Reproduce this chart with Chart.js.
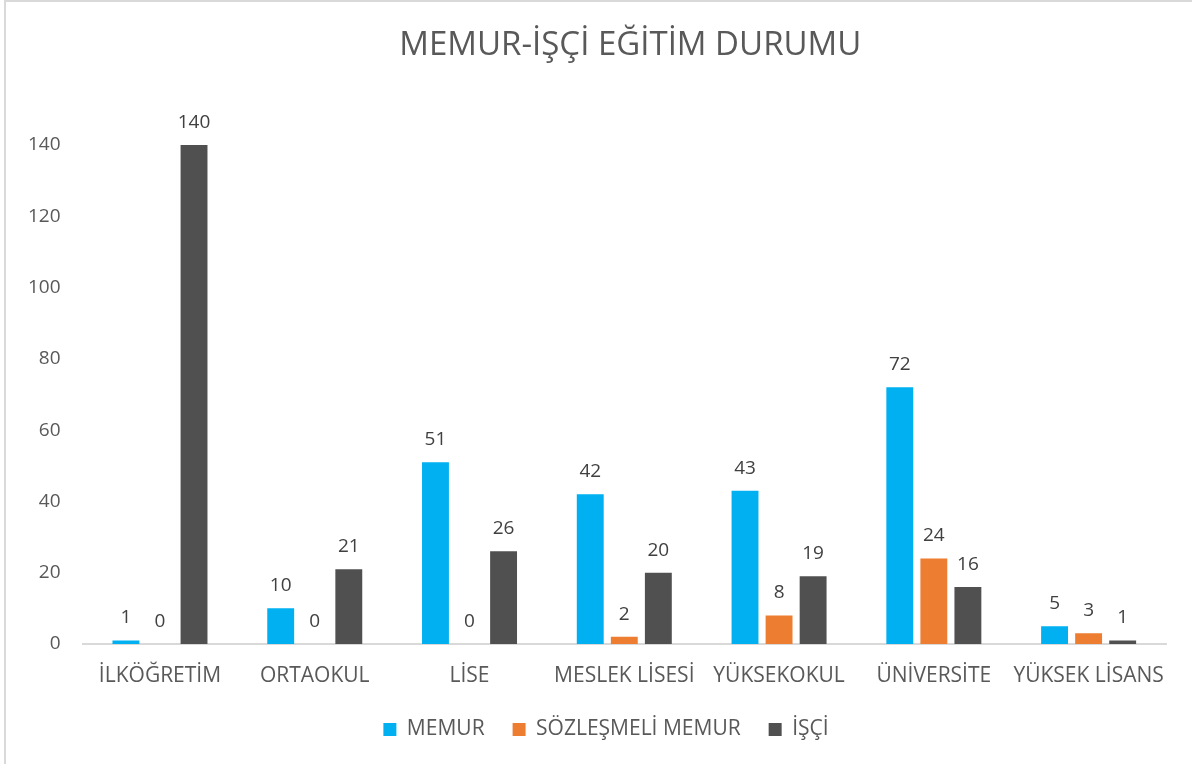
<!DOCTYPE html>
<html>
<head>
<meta charset="utf-8">
<script src="https://cdn.jsdelivr.net/npm/chart.js@4/dist/chart.umd.min.js"></script>
<style>
  body { margin: 0; background: #fff; }
  #wrap {
    position: absolute; left: 4px; top: 0;
    width: 1188px; height: 764px;
    border-left: 2px solid #d9d9d9; border-top: 2px solid #d9d9d9;
    box-sizing: border-box;
  }
  canvas { display: block; }
</style>
</head>
<body>
<div id="wrap"><canvas id="chart" width="1186" height="762"></canvas></div>
<script>
/* data */
const categories = ['İLKÖĞRETİM', 'ORTAOKUL', 'LİSE', 'MESLEK LİSESİ', 'YÜKSEKOKUL', 'ÜNİVERSİTE', 'YÜKSEK LİSANS'];
const memur = [1, 10, 51, 42, 43, 72, 5];
const sozlesmeliMemur = [0, 0, 0, 2, 8, 24, 3];
const isci = [140, 21, 26, 20, 19, 16, 1];
const yTicks = [0, 20, 40, 60, 80, 100, 120, 140];

const textColor = '#595959';
const fontFamily = '"Open Sans", sans-serif';

/* title + value labels, legend nudged to the right like the original */
const extras = {
    id: 'extras',
    afterLayout(chart) {
        chart.legend.left += 20;
        chart.legend.right += 20;
    },
    afterDraw(chart) {
        const ctx = chart.ctx;
        const area = chart.chartArea;
        ctx.save();
        ctx.fillStyle = textColor;
        ctx.textAlign = 'center';
        ctx.textBaseline = 'middle';
        ctx.font = '33px ' + fontFamily;
        ctx.fillText('MEMUR-İŞÇİ EĞİTİM DURUMU', (area.left + area.right) / 2 + 6, 44);

        ctx.fillStyle = '#404040';
        ctx.font = '19px ' + fontFamily;
        ctx.textBaseline = 'bottom';
        chart.data.datasets.forEach((ds, i) => {
            chart.getDatasetMeta(i).data.forEach((bar, j) => {
                ctx.fillText(String(ds.data[j]), bar.x, bar.y - 13);
            });
        });
        ctx.restore();
    }
};

new Chart(document.getElementById('chart'), {
    type: 'bar',
    data: {
        labels: categories,
        datasets: [
            { label: 'MEMUR', data: memur, backgroundColor: '#00b0f0' },
            { label: 'SÖZLEŞMELİ MEMUR', data: sozlesmeliMemur, backgroundColor: '#ed7d31' },
            { label: 'İŞÇİ', data: isci, backgroundColor: '#505050' }
        ]
    },
    options: {
        responsive: false,
        animation: false,
        categoryPercentage: 0.66,
        barPercentage: 0.79,
        layout: { padding: { top: 143, right: 26, left: 0, bottom: 14 } },
        scales: {
            x: {
                grid: { display: false, drawTicks: false },
                border: { display: true, color: '#d9d9d9', width: 2 },
                ticks: {
                    color: textColor, font: { family: fontFamily, size: 21 }, padding: 19,
                    autoSkip: false, maxRotation: 0, minRotation: 0
                },
                afterFit: axis => { axis.height = 47; }
            },
            y: {
                min: 0,
                max: 140,
                afterBuildTicks: axis => { axis.ticks = yTicks.map(v => ({ value: v })); },
                grid: { display: false, drawTicks: false },
                border: { display: false },
                ticks: { color: textColor, font: { family: fontFamily, size: 19 }, padding: 22 }
            }
        },
        plugins: {
            legend: {
                position: 'bottom',
                labels: {
                    color: textColor,
                    font: { family: fontFamily, size: 21 },
                    boxWidth: 13,
                    boxHeight: 13,
                    padding: 28
                }
            },
            tooltip: { enabled: false }
        }
    },
    plugins: [extras]
});
</script>
</body>
</html>
